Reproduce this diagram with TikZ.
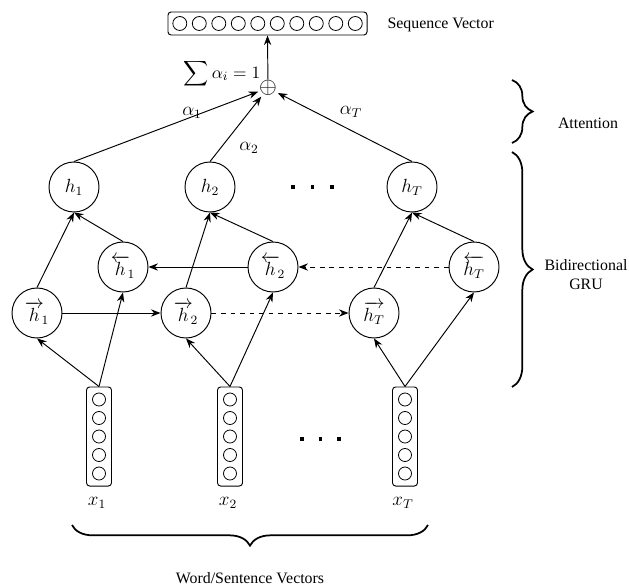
\documentclass[tikz,border=0pt]{standalone}
\usepackage{amsmath,amssymb}
\usepackage{fontspec}
\setmainfont{Liberation Serif}
\usetikzlibrary{arrows.meta,positioning,calc,decorations.pathreplacing}

\begin{document}
\begin{tikzpicture}[
  x=0.63pt, y=-0.63pt,
  every node/.style={font=\fontsize{10}{12}\selectfont},
  hid/.style={draw, circle, line width=0.6pt, minimum size=31.5pt,
              inner sep=0pt, font=\fontsize{12}{14}\selectfont},
  vecbox/.style={draw, rounded corners=2pt, line width=0.6pt,
                 minimum width=15.75pt, minimum height=62.4pt, inner sep=0pt},
  seqbox/.style={draw, rounded corners=2pt, line width=0.6pt,
                 minimum width=125.4pt, minimum height=14.5pt, inner sep=0pt},
  lbl/.style={font=\fontsize{12}{14}\selectfont},
  conn/.style={-{Stealth[length=6pt,width=4.6pt]}, line width=0.6pt},
  dconn/.style={conn, dashed},
  bracket/.style={decorate, decoration={brace, amplitude=13pt},
                  line width=1.1pt}
]
\useasboundingbox (0,0) rectangle (629,586);

%% ---- Sequence vector and attention sum (top) ------------------------
\node[seqbox] (seq) at (267.5,23.5) {};
\foreach \i in {0,...,9}
  \draw[line width=0.5pt] (179.8+\i*19.5,23.5) circle[radius=4.4pt];
\node[right] (seqlbl) at (382,25) {Sequence Vector};

\node[inner sep=0.4pt, font=\fontsize{14}{16}\selectfont] (plus) at (268,88) {$\oplus$};
\draw[conn] (plus) -- (seq.south);
\node[lbl, font=\fontsize{11}{13}\selectfont] (sum) at (222,74) {$\displaystyle\sum \alpha_i = 1$};

%% ---- Hidden states (GRU outputs) ------------------------------------
\node[hid] (h1) at (74,187)  {$h_1$};
\node[hid] (h2) at (210,187) {$h_2$};
\node[hid] (hT) at (412,187) {$h_T$};

\node[hid] (bh1) at (123,267) {$\overleftarrow{h}_{\!1}$};
\node[hid] (bh2) at (273,267) {$\overleftarrow{h}_{\!2}$};
\node[hid] (bhT) at (474,267) {$\overleftarrow{h_T}$};

\node[hid] (fh1) at (37,313)  {$\overrightarrow{h}_{\!1}$};
\node[hid] (fh2) at (186,313) {$\overrightarrow{h}_{\!2}$};
\node[hid] (fhT) at (374,313) {$\overrightarrow{h_T}$};

% ellipsis between h2 and hT
\foreach \d in {293,312.5,332}
  \fill (\d-1.8,185.2) rectangle (\d+1.8,188.8);

%% ---- Attention weights ----------------------------------------------
\draw[conn] (h1.north) -- (plus);
\draw[conn] (h2.north) -- (plus);
\draw[conn] (hT.north) -- (plus);
\node[lbl] (a1) at (192,113) {$\alpha_1$};
\node[lbl] (a2) at (249,148) {$\alpha_2$};
\node[lbl] (aT) at (351,112) {$\alpha_T$};

%% ---- Recurrent links --------------------------------------------------
\draw[conn]  (fh1.east) -- (fh2.west);
\draw[dconn] (fh2.east) -- (fhT.west);
\draw[conn]  (bh2.west) -- (bh1.east);
\draw[dconn] (bhT.west) -- (bh2.east);

\foreach \n in {1,2,T} {
  \draw[conn] (fh\n.north) -- (h\n.south);
  \draw[conn] (bh\n.north) -- (h\n.south);
}

%% ---- Input word/sentence vectors (bottom) -----------------------------
\foreach \x/\n in {99/1,230/2,405/T} {
  \node[vecbox] (x\n) at (\x,436.5) {};
  \foreach \k in {0,...,4}
    \draw[line width=0.5pt] (\x,399.5+\k*18.5) circle[radius=4.1pt];
  \node[lbl] (lx\n) at (\x-2,503) {$x_\n$};
  \draw[conn] (x\n.north) -- (fh\n.south);
  \draw[conn] (x\n.north) -- (bh\n.south);
}
\foreach \d in {302,320.5,339}
  \fill (\d-1.8,437.2) rectangle (\d+1.8,440.8);

%% ---- Braces and group labels -----------------------------------------
\draw[bracket] (428,525) -- (72,525);
\node (wlbl) at (250,578) {Word/Sentence Vectors};

\draw[bracket] (512,80) -- (512,143);
\node (attlbl) at (588,123) {Attention};

\draw[bracket] (512,152) -- (512,387);
\node[align=center, inner sep=1pt] (grulbl) at (586,275) {Bidirectional\\GRU};

\end{tikzpicture}
\end{document}
